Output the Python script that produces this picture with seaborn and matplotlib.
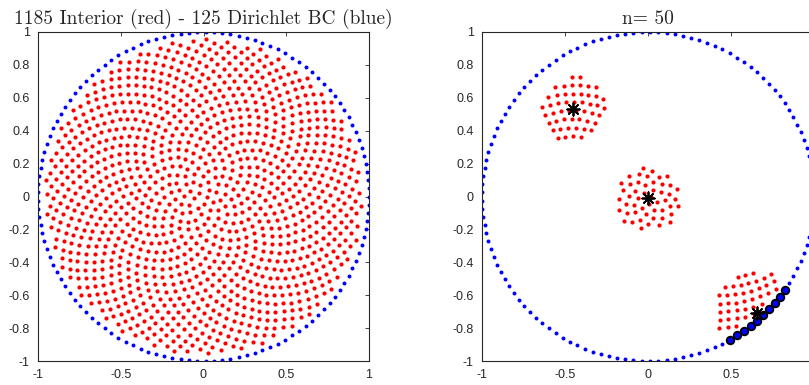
import numpy as np
import pandas as pd
import seaborn as sns
import matplotlib.pyplot as plt

# node set sizes (from the titles)
n_interior = 1185
n_boundary = 125
n_stencil = 50
interior_radius = 0.96

# stencil centres
center_x = [-0.45, 0.0, 0.655]
center_y = [0.53, -0.011, -0.71]

xtick_vals = [-1, -0.5, 0, 0.5, 1]
xtick_labels = ['-1', '-0.5', '0', '0.5', '1']
ytick_vals = [-1, -0.8, -0.6, -0.4, -0.2, 0, 0.2, 0.4, 0.6, 0.8, 1]
ytick_labels = ['-1', '-0.8', '-0.6', '-0.4', '-0.2', '0', '0.2', '0.4', '0.6', '0.8', '1']

title_left = '1185 Interior (red) - 125 Dirichlet BC (blue)'
title_right = 'n= 50'

# quasi-uniform interior nodes (sunflower) and equispaced boundary nodes
k = np.arange(n_interior)
golden = np.pi * (3 - np.sqrt(5))
r = interior_radius * np.sqrt((k + 0.5) / n_interior)
interior = pd.DataFrame({'x': r * np.cos(k * golden), 'y': r * np.sin(k * golden)})
t = 2 * np.pi * np.arange(n_boundary) / n_boundary
boundary = pd.DataFrame({'x': np.cos(t), 'y': np.sin(t)})

nodes = pd.concat([interior.assign(kind='int'), boundary.assign(kind='bc')], ignore_index=True)
stencils = []
for cx, cy in zip(center_x, center_y):
    d = np.hypot(nodes['x'] - cx, nodes['y'] - cy)
    stencils.append(nodes.loc[d.nsmallest(n_stencil).index])
stencil = pd.concat(stencils)
centers = pd.DataFrame({'x': center_x, 'y': center_y})

sns.set_style('white')
plt.rcParams['font.family'] = ['Liberation Sans', 'DejaVu Sans']
plt.rcParams['axes.unicode_minus'] = False

fig = plt.figure(figsize=(8.09, 3.85), dpi=100)
ax1 = fig.add_axes([38 / 809, 24 / 385, 331 / 809, 329 / 385])
ax2 = fig.add_axes([482 / 809, 24 / 385, 332 / 809, 329 / 385])

sns.scatterplot(data=interior, x='x', y='y', color='red', s=9, linewidth=0, ax=ax1)
sns.scatterplot(data=boundary, x='x', y='y', color='blue', s=8, linewidth=0, ax=ax1)

sns.scatterplot(data=boundary, x='x', y='y', color='blue', s=8, linewidth=0, ax=ax2)
sns.scatterplot(data=stencil[stencil['kind'] == 'int'], x='x', y='y', color='red',
                s=9, linewidth=0, ax=ax2)
sns.scatterplot(data=stencil[stencil['kind'] == 'bc'], x='x', y='y', color='blue',
                s=30, edgecolor='black', linewidth=1.3, ax=ax2)
sns.scatterplot(data=centers, x='x', y='y', marker=(8, 2, 0), color='black',
                s=80, linewidth=1.3, ax=ax2)

for ax, title in [(ax1, title_left), (ax2, title_right)]:
    ax.set_xlim(-1, 1)
    ax.set_ylim(-1, 1)
    ax.set_xticks(xtick_vals)
    ax.set_yticks(ytick_vals)
    ax.set_yticklabels(ytick_labels)
    ax.tick_params(direction='in', length=3, width=0.6, colors='#262626',
                   labelsize=9, top=True, right=True, pad=6)
    for sp in ax.spines.values():
        sp.set_color('#262626')
        sp.set_linewidth(0.8)
    ax.set_xlabel('')
    ax.set_ylabel('')
    ax.set_title(title, fontfamily='cmr10', fontsize=14, pad=6)

ax1.set_xticklabels(xtick_labels)
# the right panel runs past the figure edge, so its last label is not shown
ax2.set_xticklabels(xtick_labels[:-1] + [''])

fig.savefig('out.png', dpi=100)
